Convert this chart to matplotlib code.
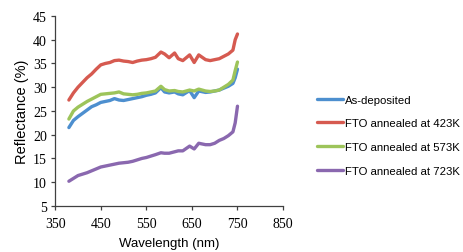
import matplotlib
matplotlib.use("Agg")
import matplotlib.pyplot as plt

# wavelength grid (nm) and reflectance (%)
wl = [380, 390, 400, 410, 420, 430, 440, 450, 460, 470, 480, 490, 500, 510, 520,
      530, 540, 550, 560, 570, 582, 590, 600, 612, 620, 630, 645, 655, 665, 680,
      690, 700, 710, 720, 730, 740, 745, 750]

as_dep = [21.5, 23.0, 23.8, 24.5, 25.2, 25.9, 26.3, 26.8, 27.0, 27.2, 27.6, 27.3, 27.2,
          27.4, 27.6, 27.8, 28.0, 28.3, 28.5, 28.8, 29.9, 29.0, 28.8, 29.0, 28.6, 28.4,
          29.3, 27.8, 29.2, 28.9, 29.0, 29.2, 29.4, 29.8, 30.2, 30.8, 32.0, 33.8]

fto_423 = [27.3, 28.8, 30.0, 31.0, 32.0, 32.8, 33.8, 34.7, 35.0, 35.2, 35.6, 35.7, 35.5,
           35.4, 35.2, 35.5, 35.7, 35.8, 36.0, 36.3, 37.4, 37.0, 36.2, 37.2, 36.0, 35.6,
           36.8, 35.2, 36.8, 35.8, 35.6, 35.8, 36.0, 36.5, 37.0, 37.8, 40.0, 41.2]

fto_573 = [23.3, 25.0, 25.8, 26.4, 27.0, 27.5, 28.0, 28.5, 28.6, 28.7, 28.8, 29.0, 28.6,
           28.5, 28.4, 28.5, 28.7, 28.8, 29.0, 29.2, 30.2, 29.5, 29.2, 29.3, 29.1, 29.0,
           29.4, 29.2, 29.6, 29.2, 29.1, 29.2, 29.4, 30.0, 30.6, 31.5, 33.5, 35.3]

fto_723 = [10.2, 10.8, 11.4, 11.7, 12.0, 12.4, 12.8, 13.2, 13.4, 13.6, 13.8, 14.0, 14.1,
           14.2, 14.4, 14.7, 15.0, 15.2, 15.5, 15.8, 16.2, 16.1, 16.1, 16.4, 16.6, 16.6,
           17.6, 17.0, 18.2, 17.9, 17.9, 18.2, 18.8, 19.2, 19.8, 20.6, 22.5, 26.0]

labels = ["As-deposited", "FTO annealed at 423K", "FTO annealed at 573K", "FTO annealed at 723K"]
colors = ["#4D8FCF", "#D65A50", "#9DC45A", "#8A68AF"]

fig = plt.figure(figsize=(4.64, 2.53), dpi=100)
ax = fig.add_axes([0.119, 0.182, 0.491, 0.751])

for ys, lab, c in zip([as_dep, fto_423, fto_573, fto_723], labels, colors):
    ax.plot(wl, ys, color=c, lw=2.4, label=lab, solid_capstyle="round")

ax.set_xlim(350, 850)
ax.set_ylim(5, 45)
ax.set_xticks(range(350, 851, 100))
ax.set_yticks(range(5, 46, 5))
for s in ["top", "right"]:
    ax.spines[s].set_visible(False)
for s in ["left", "bottom"]:
    ax.spines[s].set_color("#404040")
    ax.spines[s].set_linewidth(0.9)
ax.tick_params(direction="out", length=3, width=0.9, color="#404040")
ax.tick_params(axis="x", pad=5)
ax.tick_params(axis="y", pad=3)
for t in ax.get_xticklabels() + ax.get_yticklabels():
    t.set_family("Liberation Serif")
    t.set_fontsize(10)

ax.set_xlabel("Wavelength (nm)", family="Liberation Sans", fontsize=9.5, labelpad=5)
ax.set_ylabel("Reflectance (%)", family="Liberation Sans", fontsize=10.5, labelpad=3)

fig.legend(*ax.get_legend_handles_labels(), loc="center left",
           bbox_to_anchor=(0.683, 0.462), frameon=False,
           prop={"family": "Liberation Sans", "size": 8.2}, handlelength=2.3,
           handletextpad=0.15, labelspacing=1.2, borderaxespad=0, borderpad=0)

fig.savefig("out.png", dpi=100)
